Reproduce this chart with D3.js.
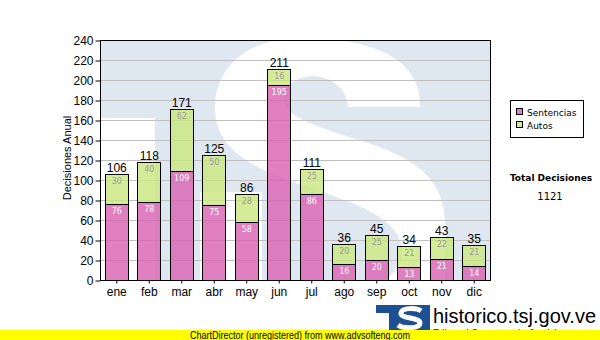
<!DOCTYPE html>
<html>
<head>
<meta charset="utf-8">
<script src="https://cdn.jsdelivr.net/npm/d3@7"></script>
<style>
  html, body { margin: 0; padding: 0; background: #fff; }
  svg { display: block; }
</style>
</head>
<body>
<svg id="chart" width="600" height="340"></svg>
<script>
// Monthly decisions: sentences and rulings (stacked)
const meses = ["ene","feb","mar","abr","may","jun","jul","ago","sep","oct","nov","dic"];
const sentencias = [76, 78, 109, 75, 58, 195, 86, 16, 20, 13, 21, 14];
const autos = [30, 40, 62, 50, 28, 16, 25, 20, 25, 21, 22, 21];
const yTicks = [0, 20, 40, 60, 80, 100, 120, 140, 160, 180, 200, 220, 240];
const seriesNames = ["Sentencias", "Autos"];
const totalLabel = "Total Decisiones";

const svg = d3.select("#chart");
const plot = { left: 100, right: 490, top: 40, bottom: 280 };

const x = d3.scaleBand().domain(meses).range([plot.left, plot.right])
  .paddingInner(0.29).paddingOuter(0.145);
const y = d3.scaleLinear().domain([0, 240]).range([plot.bottom, plot.top]);

const colors = {
  sentencias: "rgba(216,96,176,0.8)",
  autos: "rgba(201,231,126,0.8)"
};

// Plot background with the large faded "S" emblem
svg.append("clipPath").attr("id", "plotClip")
  .append("rect").attr("x", plot.left).attr("y", plot.top)
  .attr("width", plot.right - plot.left).attr("height", plot.bottom - plot.top);

const bg = svg.append("g").attr("clip-path", "url(#plotClip)");
bg.append("rect").attr("x", plot.left).attr("y", plot.top)
  .attr("width", plot.right - plot.left).attr("height", plot.bottom - plot.top)
  .attr("fill", "#dfe8f1");
bg.append("rect").attr("x", 100).attr("y", 118).attr("width", 55).attr("height", 170)
  .attr("fill", "#fff");
bg.append("path").attr("fill", "#fff").attr("d",
  "M420,107 C422,62 378,38 302,38 C244,38 213,70 215,112 " +
  "C217,150 255,170 310,188 C362,205 400,220 402,250 " +
  "C403,274 382,288 335,288 L262,288 L262,192 L200,192 L200,300 L445,300 " +
  "L445,225 C445,182 420,160 368,143 C322,128 284,118 284,100 " +
  "C284,84 298,76 314,76 C334,77 348,92 348,107 Z");

// Gridlines
svg.append("g").selectAll("line").data(yTicks.filter(t => t > 0 && t < 240)).join("line")
  .attr("x1", plot.left).attr("x2", plot.right)
  .attr("y1", d => y(d) + 0.5).attr("y2", d => y(d) + 0.5)
  .attr("stroke", "#c0c0c0").attr("stroke-width", 1);

// Stacked bars
const bars = svg.append("g");
meses.forEach((m, i) => {
  const s = sentencias[i], a = autos[i], t = s + a;
  const bx = Math.round(x(m)) + 0.5, bw = Math.round(x.bandwidth());
  bars.append("rect").attr("x", bx).attr("y", Math.round(y(s)) + 0.5)
    .attr("width", bw).attr("height", y(0) - y(s))
    .attr("fill", colors.sentencias).attr("stroke", "#000").attr("stroke-width", 1);
  bars.append("rect").attr("x", bx).attr("y", Math.round(y(t)) + 0.5)
    .attr("width", bw).attr("height", y(s) - y(t))
    .attr("fill", colors.autos).attr("stroke", "#000").attr("stroke-width", 1);
  const cx = x(m) + x.bandwidth() / 2 + 0.5;
  bars.append("text").attr("x", cx).attr("y", y(s) + 10)
    .attr("text-anchor", "middle").attr("font-family", "DejaVu Sans")
    .attr("font-size", 8).attr("fill", "#fff").text(s);
  bars.append("text").attr("x", cx).attr("y", y(t) + 10)
    .attr("text-anchor", "middle").attr("font-family", "DejaVu Sans")
    .attr("font-size", 8).attr("fill", "#999").text(a);
  bars.append("text").attr("x", cx).attr("y", y(t) - 2)
    .attr("text-anchor", "middle").attr("font-family", "Liberation Sans, Arial")
    .attr("font-size", 12).attr("fill", "#000").text(t);
});

// Plot frame
svg.append("rect").attr("x", plot.left + 0.5).attr("y", plot.top + 0.5)
  .attr("width", plot.right - plot.left).attr("height", plot.bottom - plot.top)
  .attr("fill", "none").attr("stroke", "#000").attr("stroke-width", 1);

// Axes
const yAxis = svg.append("g").attr("transform", `translate(${plot.left + 0.5},0.5)`)
  .call(d3.axisLeft(y).tickValues(yTicks).tickSize(5).tickPadding(2));
const xAxis = svg.append("g").attr("transform", `translate(0.5,${plot.bottom + 0.5})`)
  .call(d3.axisBottom(x).tickSize(3).tickPadding(4));
[yAxis, xAxis].forEach(g => {
  g.select(".domain").remove();
  g.selectAll("line").attr("stroke", "#000");
  g.selectAll("text").attr("font-family", "Liberation Sans, Arial")
    .attr("font-size", 12).attr("fill", "#000");
});

svg.append("text").attr("transform", "translate(71,158) rotate(-90)")
  .attr("text-anchor", "middle").attr("font-family", "Liberation Sans, Arial")
  .attr("font-size", 11).attr("fill", "#000").text("Decisiones Anual");

// Legend
const lg = svg.append("g");
lg.append("rect").attr("x", 510.5).attr("y", 100.5).attr("width", 73).attr("height", 37)
  .attr("fill", "#fff").attr("stroke", "#000");
[colors.sentencias, colors.autos].forEach((c, i) => {
  lg.append("rect").attr("x", 516.5).attr("y", 108.5 + i * 13).attr("width", 6).attr("height", 6)
    .attr("fill", c).attr("stroke", "#000");
  lg.append("text").attr("x", 527).attr("y", 116 + i * 13)
    .attr("font-family", "DejaVu Sans").attr("font-size", 9).attr("fill", "#000")
    .text(seriesNames[i]);
});

// Grand total
const grandTotal = d3.sum(sentencias) + d3.sum(autos);
svg.append("text").attr("x", 551).attr("y", 181).attr("text-anchor", "middle")
  .attr("font-family", "DejaVu Sans").attr("font-weight", "bold").attr("font-size", 9)
  .attr("fill", "#000").text(totalLabel);
svg.append("text").attr("x", 550).attr("y", 200).attr("text-anchor", "middle")
  .attr("font-family", "DejaVu Sans").attr("font-size", 10)
  .attr("fill", "#000").text(grandTotal);

// Site logo (blue block with white S) and address
const logo = svg.append("g");
logo.append("rect").attr("x", 376).attr("y", 305).attr("width", 54).attr("height", 8).attr("fill", "#1d4f93");
logo.append("rect").attr("x", 389).attr("y", 305).attr("width", 41).attr("height", 26).attr("fill", "#1d4f93");
logo.append("path").attr("fill", "none").attr("stroke", "#fff").attr("stroke-width", 5)
  .attr("stroke-linecap", "butt")
  .attr("d", "M421,311 C417,308 402,307 401,313 C400,319 420,317 420,323 C420,329 403,329 398,325");
svg.append("text").attr("x", 433).attr("y", 323)
  .attr("font-family", "Liberation Sans, Arial").attr("font-size", 20).attr("fill", "#000")
  .attr("textLength", 163).attr("lengthAdjust", "spacingAndGlyphs")
  .text("historico.tsj.gov.ve");
svg.append("text").attr("x", 433).attr("y", 337)
  .attr("font-family", "Liberation Sans, Arial").attr("font-size", 10).attr("fill", "#333")
  .text("Tribunal Supremo de Justicia");

// Footer band
svg.append("rect").attr("x", 0).attr("y", 330).attr("width", 600).attr("height", 10).attr("fill", "#ffff00");
svg.append("text").attr("x", 300).attr("y", 338.5).attr("text-anchor", "middle")
  .attr("font-family", "Liberation Sans, Arial").attr("font-size", 10).attr("fill", "#000")
  .attr("textLength", 220).attr("lengthAdjust", "spacingAndGlyphs")
  .text("ChartDirector (unregistered) from www.advsofteng.com");
</script>
</body>
</html>
